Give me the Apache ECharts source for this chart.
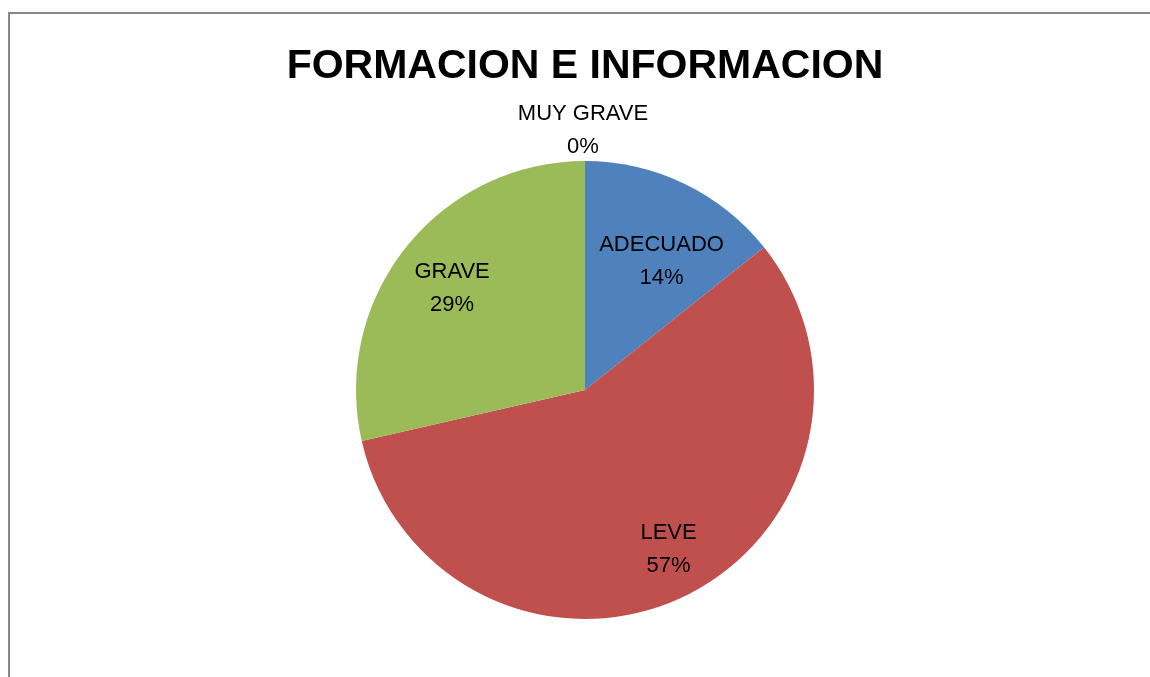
<!DOCTYPE html>
<html>
<head>
<meta charset="utf-8">
<script src="https://cdn.jsdelivr.net/npm/echarts@6/dist/echarts.min.js"></script>
<style>
html,body{margin:0;padding:0;background:#fff;}
#chart{width:1150px;height:677px;}
</style>
</head>
<body>
<div id="chart"></div>
<script>
const categories = ['ADECUADO', 'LEVE', 'GRAVE', 'MUY GRAVE'];
const values = [1, 4, 2, 0];
const colors = ['#4F81BD', '#C0504D', '#9BBB59', '#8064A2'];
const titleText = 'FORMACION E INFORMACION';

// style: small label nudges (px) applied after radial placement
const labelNudge = [[5, 20], [12, 11], [-4, 1], [-2, 0]];

const CX = 585, CY = 390, R = 229;
const total = values.reduce((a, b) => a + b, 0);
const midAngles = [];
let acc = 0;
values.forEach(v => {
  midAngles.push((acc + v / 2) / total * 2 * Math.PI);
  acc += v;
});

const chart = echarts.init(document.getElementById('chart'), null, {renderer: 'canvas'});
chart.setOption({
  animation: false,
  backgroundColor: '#fff',
  title: {
    text: titleText,
    left: 580,
    top: 41,
    textAlign: 'center',
    textStyle: {fontFamily: 'Liberation Sans', fontWeight: 'bold', fontSize: 41, color: '#000'}
  },
  graphic: [{
    type: 'rect',
    shape: {x: 9, y: 13, width: 1200, height: 700},
    style: {fill: 'none', stroke: '#888', lineWidth: 2},
    silent: true
  }],
  series: [{
    type: 'pie',
    center: [CX, CY],
    radius: [0, R],
    startAngle: 90,
    clockwise: true,
    avoidLabelOverlap: false,
    minShowLabelAngle: 0,
    itemStyle: {borderWidth: 0},
    emphasis: {disabled: true},
    labelLine: {show: false},
    label: {
      show: true,
      position: 'inside',
      formatter: p => p.name + '\n' + Math.round(p.percent) + '%',
      fontFamily: 'Liberation Sans',
      fontSize: 22,
      lineHeight: 33,
      color: '#000'
    },
    labelLayout: function (params) {
      const i = params.dataIndex;
      const f = values[i] === 0 ? 1.135 : 0.72;
      const a = midAngles[i];
      return {
        x: CX + Math.sin(a) * R * f + labelNudge[i][0],
        y: CY - Math.cos(a) * R * f + labelNudge[i][1],
        align: 'center',
        verticalAlign: 'middle'
      };
    },
    data: categories.map((c, i) => ({name: c, value: values[i], itemStyle: {color: colors[i]}}))
  }]
});
</script>
</body>
</html>
